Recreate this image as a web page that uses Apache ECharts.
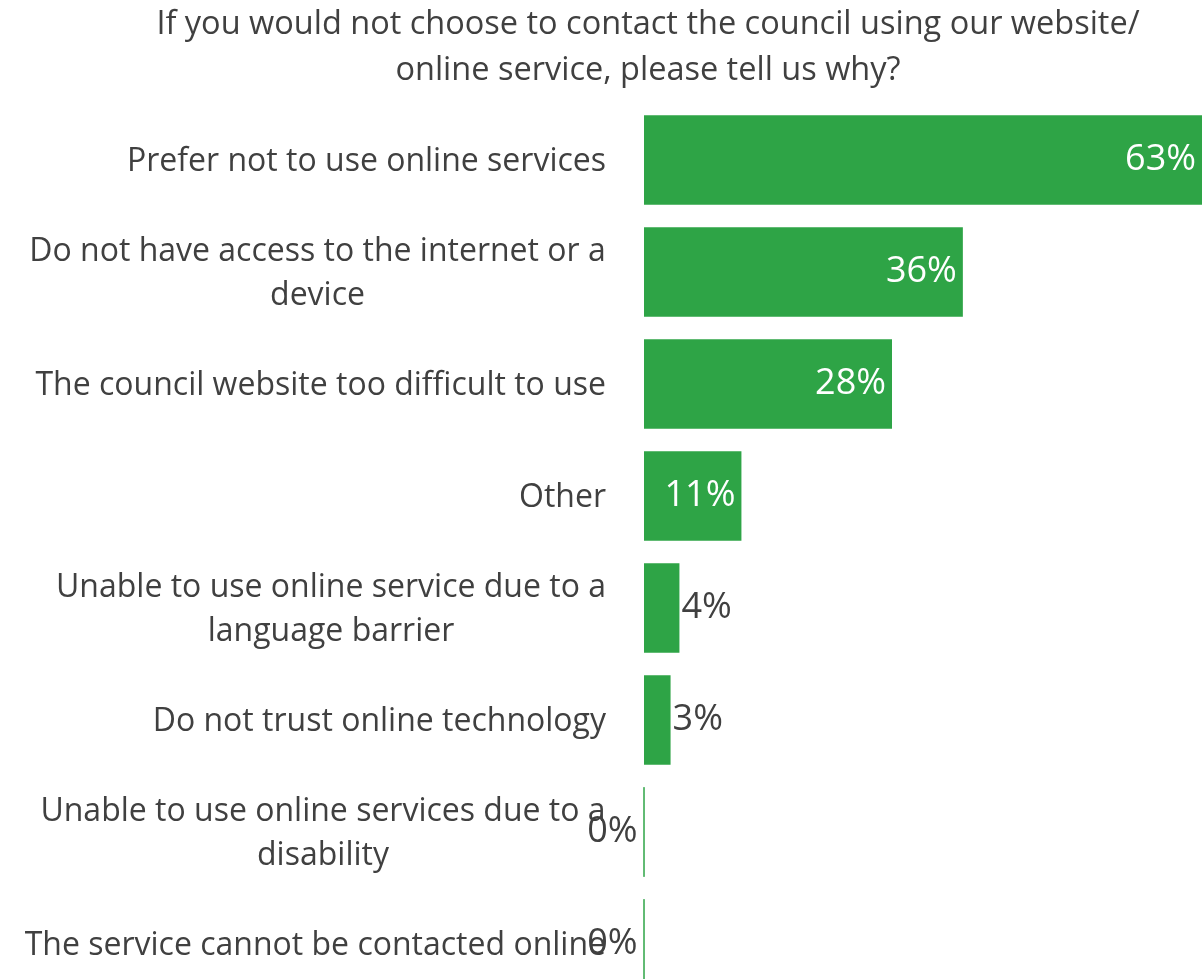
<!DOCTYPE html>
<html>
<head>
<meta charset="utf-8">
<script src="https://cdn.jsdelivr.net/npm/echarts@6/dist/echarts.min.js"></script>
<style>
  html, body { margin: 0; padding: 0; background: #fff; overflow: hidden; }
  #chart { width: 1202px; height: 1000px; }
</style>
</head>
<body>
<div id="chart"></div>
<script>
// chart data
var titleText = 'If you would not choose to contact the council using our website/\nonline service, please tell us why?'
var categories = [
  'Prefer not to use online services',
  'Do not have access to the internet or a\ndevice',
  'The council website too difficult to use',
  'Other',
  'Unable to use online service due to a\nlanguage barrier',
  'Do not trust online technology',
  'Unable to use online services due to a\ndisability',
  'The service cannot be contacted online'
]
var values = [63, 36, 28, 11, 4, 3, 0, 0]

var FONT = '"Open Sans", "Noto Sans", sans-serif'
var LABEL_SIZE = 32
var GREEN = '#2ea446'
var TEXT = '#404040'

// measure text so that wrapped lines can be centred inside their block
var ctx = document.createElement('canvas').getContext('2d')
ctx.font = LABEL_SIZE + 'px ' + FONT
var rich = {}
var labelText = {}
categories.forEach(function (c, i) {
  var lines = c.split('\n')
  if (lines.length === 1) {
    labelText[c] = c
    return
  }
  var w = Math.max.apply(null, lines.map(function (l) { return ctx.measureText(l).width }))
  rich['l' + i] = { width: Math.ceil(w), align: 'center', fontSize: LABEL_SIZE, color: TEXT, fontFamily: FONT, lineHeight: 44 }
  labelText[c] = lines.map(function (l) { return '{l' + i + '|' + l + '}' }).join('\n')
})

var chart = echarts.init(document.getElementById('chart'))
var option = {
  animation: false,
  title: {
    text: titleText,
    left: 643,
    top: -3,
    textAlign: 'center',
    textStyle: {
      fontFamily: FONT,
      fontSize: 32.5,
      fontWeight: 'normal',
      color: TEXT,
      lineHeight: 46
    }
  },
  grid: {
    left: 644,
    right: 0,
    top: 104,
    bottom: 0,
    containLabel: false
  },
  xAxis: {
    type: 'value',
    min: 0,
    max: 63,
    show: false
  },
  yAxis: {
    type: 'category',
    inverse: true,
    data: categories,
    axisLine: { show: false },
    axisTick: { show: false },
    axisLabel: {
      margin: 38,
      fontFamily: FONT,
      fontSize: LABEL_SIZE,
      color: TEXT,
      lineHeight: 44,
      padding: [4, 0, 0, 0],
      formatter: function (v) { return labelText[v] },
      rich: rich
    }
  },
  series: [{
    type: 'bar',
    barCategoryGap: '20%',
    data: values.map(function (v) {
      var item = { value: v }
      if (v === 0) {
        // zero bars: thin line and label on the left of the axis
        item.itemStyle = { borderColor: GREEN, borderWidth: 1 }
        item.label = { position: 'left', distance: 6, color: TEXT }
      } else if (v < 8) {
        item.label = { position: 'right', distance: 2, color: TEXT }
      }
      return item
    }),
    itemStyle: { color: GREEN },
    label: {
      show: true,
      position: 'insideRight',
      distance: 6,
      formatter: '{c}%',
      fontFamily: FONT,
      fontSize: 36,
      color: '#fff'
    }
  }]
}
chart.setOption(option)
window.addEventListener('resize', function () {
  chart.resize()
})
</script>
</body>
</html>
